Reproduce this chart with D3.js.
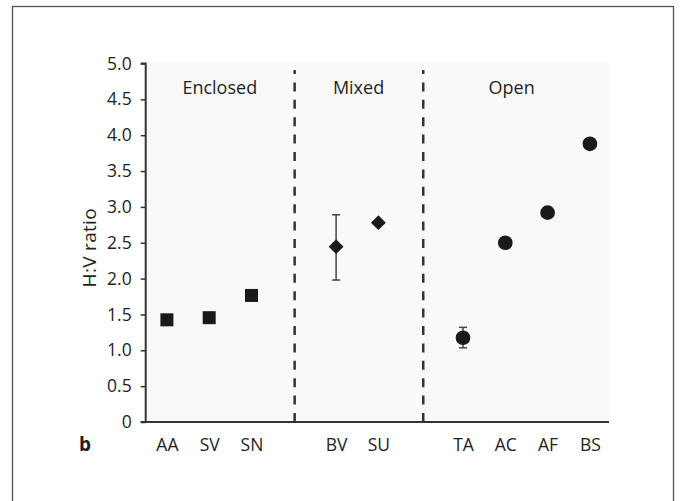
<!DOCTYPE html>
<html>
<head>
<meta charset="utf-8">
<script src="https://cdn.jsdelivr.net/npm/d3@7"></script>
<style>
  html, body { margin: 0; padding: 0; background: #fff; }
  svg { display: block; }
  text { font-family: "Open Sans", "Noto Sans", sans-serif; fill: #231f20; }
</style>
</head>
<body>
<svg id="chart" width="681" height="501"></svg>
<script>
// ---- data ----
const categories = ["AA", "SV", "SN", "BV", "SU", "TA", "AC", "AF", "BS"];
const slotIndex  = [0, 1, 2, 4, 5, 7, 8, 9, 10];
const values     = [1.425, 1.455, 1.765, 2.445, 2.78, 1.175, 2.50, 2.92, 3.88];
const errLow     = [null, null, null, 1.98, null, 1.035, null, null, null];
const errHigh    = [null, null, null, 2.89, null, 1.32, null, null, null];
const markerType = ["square", "square", "square", "diamond", "diamond", "circle", "circle", "circle", "circle"];
const groupNames = ["Enclosed", "Mixed", "Open"];
const groupLabelPos = [1.25, 4.53, 8.15];
const dividers   = [3.02, 6.06];
const yTicks     = [0, 0.5, 1.0, 1.5, 2.0, 2.5, 3.0, 3.5, 4.0, 4.5, 5.0];

// ---- layout ----
const svg = d3.select("#chart");
const axisX = 145.7, plotRight = 609;
const y = d3.scaleLinear().domain([0, 5]).range([422, 63.5]);
const x = d3.scaleLinear().domain([0, 10]).range([166.9, 589.9]);
const FONT = "Open Sans, Noto Sans, sans-serif";

// outer frame
svg.append("rect")
  .attr("x", 12.5).attr("y", 6.5).attr("width", 661).attr("height", 510)
  .attr("fill", "none").attr("stroke", "#555").attr("stroke-width", 1.3);

// plot background
svg.append("rect")
  .attr("x", axisX).attr("y", 61.5)
  .attr("width", plotRight - axisX).attr("height", y(0) - 61.5)
  .attr("fill", "#f9f9f9");

// dividers
svg.selectAll("line.div").data(dividers).join("line")
  .attr("class", "div")
  .attr("x1", d => x(d)).attr("x2", d => x(d))
  .attr("y1", y(0)).attr("y2", 70)
  .attr("stroke", "#333").attr("stroke-width", 2.5)
  .attr("stroke-dasharray", "9,8.4");

// group labels
svg.selectAll("text.grp").data(groupNames).join("text")
  .attr("class", "grp")
  .attr("x", (d, i) => x(groupLabelPos[i])).attr("y", 94)
  .attr("text-anchor", "middle")
  .attr("font-size", 18)
  .text(d => d);

// y axis
const yAxis = d3.axisLeft(y).tickValues(yTicks).tickSize(5).tickPadding(9)
  .tickFormat(d => d === 0 ? "0" : d.toFixed(1));
const gy = svg.append("g").attr("transform", `translate(${axisX},0)`).call(yAxis);
gy.attr("font-size", null).attr("font-family", null);
gy.select(".domain").attr("stroke", "#333").attr("stroke-width", 2)
  .attr("d", `M-5,${y(5)}H0V${y(0)}`);
gy.selectAll(".tick line").attr("stroke", "#333").attr("stroke-width", 1.5);
gy.selectAll(".tick text").attr("font-size", 17.5).attr("fill", "#231f20")
  .attr("font-family", FONT);

// x axis
const xAxis = d3.axisBottom(x).tickValues(slotIndex).tickSize(0).tickPadding(16.5)
  .tickFormat((d, i) => categories[i]);
const gx = svg.append("g").attr("transform", `translate(0,${y(0)})`).call(xAxis);
gx.attr("font-size", null).attr("font-family", null);
gx.select(".domain").attr("stroke", "#333").attr("stroke-width", 2)
  .attr("d", `M${axisX - 5},0H${plotRight}`);
gx.selectAll(".tick text").attr("font-size", 17.5).attr("fill", "#231f20")
  .attr("font-family", FONT);

// y label
svg.append("text")
  .attr("transform", `translate(96,${(y(0) + y(5)) / 2 + 5}) rotate(-90)`)
  .attr("text-anchor", "middle")
  .attr("font-size", 19)
  .attr("letter-spacing", 0.3)
  .text("H:V ratio");

// panel letter
svg.append("text")
  .attr("x", 85).attr("y", 451)
  .attr("text-anchor", "middle")
  .attr("font-size", 19).attr("font-weight", "bold")
  .text("b");

// error bars
const idx = d3.range(categories.length);
const errIdx = idx.filter(i => errLow[i] !== null);
const eb = svg.selectAll("g.err").data(errIdx).join("g").attr("class", "err");
eb.append("line")
  .attr("x1", i => x(slotIndex[i])).attr("x2", i => x(slotIndex[i]))
  .attr("y1", i => y(errLow[i])).attr("y2", i => y(errHigh[i]))
  .attr("stroke", "#444").attr("stroke-width", 1.5);
[errLow, errHigh].forEach(arr => {
  eb.append("line")
    .attr("x1", i => x(slotIndex[i]) - 4).attr("x2", i => x(slotIndex[i]) + 4)
    .attr("y1", i => y(arr[i])).attr("y2", i => y(arr[i]))
    .attr("stroke", "#444").attr("stroke-width", 1.5);
});

// markers
const symSize = { square: 169, diamond: 110, circle: 170 };
const symType = { square: d3.symbolSquare, diamond: d3.symbolSquare, circle: d3.symbolCircle };
svg.selectAll("path.pt").data(idx).join("path")
  .attr("class", "pt")
  .attr("d", i => d3.symbol().type(symType[markerType[i]]).size(symSize[markerType[i]])())
  .attr("transform", i => `translate(${x(slotIndex[i])},${y(values[i])})` + (markerType[i] === "diamond" ? " rotate(45)" : ""))
  .attr("fill", "#1a1a1a");
</script>
</body>
</html>
